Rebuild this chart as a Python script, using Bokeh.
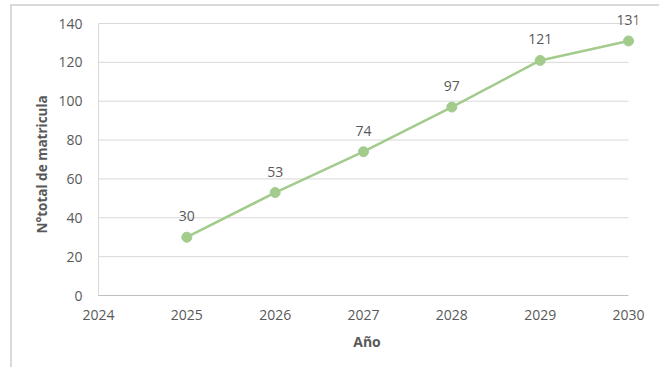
from bokeh.plotting import figure
from bokeh.models import ColumnDataSource, FixedTicker, Range1d, LabelSet, Title
from bokeh.embed import file_html
from bokeh.resources import INLINE
from bokeh.core.properties import value

years = [2025, 2026, 2027, 2028, 2029, 2030]
matricula = [30, 53, 74, 97, 121, 131]
x_ticks = [2024, 2025, 2026, 2027, 2028, 2029, 2030]
y_ticks = [0, 20, 40, 60, 80, 100, 120, 140]

FONT = "Open Sans"
TXT = "#595959"
GREEN = "#A3CB8C"

x_min, x_max = x_ticks[0], x_ticks[-1]
y_min, y_max = y_ticks[0], y_ticks[-1]
xpx = 530 / (x_max - x_min)   # pixels per unit
ypx = 272 / (y_max - y_min)

src = ColumnDataSource(dict(x=years, y=matricula, lbl=[str(v) for v in matricula]))

p = figure(width=649, height=363, output_backend="svg", toolbar_location=None,
           x_range=Range1d(x_min - 2 / xpx, x_max + 9 / xpx),
           y_range=Range1d(y_min - 2 / ypx, y_max + 15 / ypx),
           min_border_left=84, min_border_right=24, min_border_top=2,
           min_border_bottom=72)
p.margin = (4, 0, 0, 10)
p.styles = {"border-top": "2px solid #D9D9D9", "border-left": "2px solid #D9D9D9"}
p.outline_line_color = None
p.background_fill_color = "white"
p.border_fill_color = "white"

# gridlines and axis lines
grid_y = y_ticks[1:]
p.segment(x0=[x_min] * len(grid_y), x1=[x_max] * len(grid_y), y0=grid_y, y1=grid_y,
          line_color="#D9D9D9", line_width=1)
p.segment(x0=[x_min], x1=[x_min], y0=[y_min], y1=[y_max], line_color="#D9D9D9", line_width=1)
p.segment(x0=[x_min], x1=[x_max], y0=[y_min], y1=[y_min], line_color="#BFBFBF", line_width=1)

p.line("x", "y", source=src, line_color=GREEN, line_width=2.5)
p.scatter("x", "y", source=src, size=10, fill_color=GREEN, line_color=GREEN)
labels = LabelSet(x="x", y="y", text="lbl", source=src, text_align="center",
                  text_baseline="middle", y_offset=21, text_font=value(FONT),
                  text_font_size="14px", text_color=TXT)
p.add_layout(labels)

p.xaxis.ticker = FixedTicker(ticks=x_ticks)
p.yaxis.ticker = FixedTicker(ticks=y_ticks)
p.xgrid.visible = False
p.ygrid.visible = False

for ax in (p.xaxis, p.yaxis):
    ax.major_tick_line_color = None
    ax.minor_tick_line_color = None
    ax.axis_line_color = None
    ax.major_label_text_font = FONT
    ax.major_label_text_font_size = "14px"
    ax.major_label_text_color = TXT
    ax.axis_label_text_font = FONT
    ax.axis_label_text_font_size = "14px"
    ax.axis_label_text_font_style = "bold"
    ax.axis_label_text_color = TXT

p.xaxis.axis_label = "Año"
p.xaxis.major_label_standoff = 6
p.yaxis.major_label_standoff = 8
p.xaxis.axis_label_standoff = 9

ytitle = Title(text="N°total de matricula", align="left", offset=64,
               text_font=FONT, text_font_size="13.5px", text_font_style="bold",
               text_color=TXT)
p.add_layout(ytitle, "left")

open("out.html", "w").write(file_html(p, INLINE))
